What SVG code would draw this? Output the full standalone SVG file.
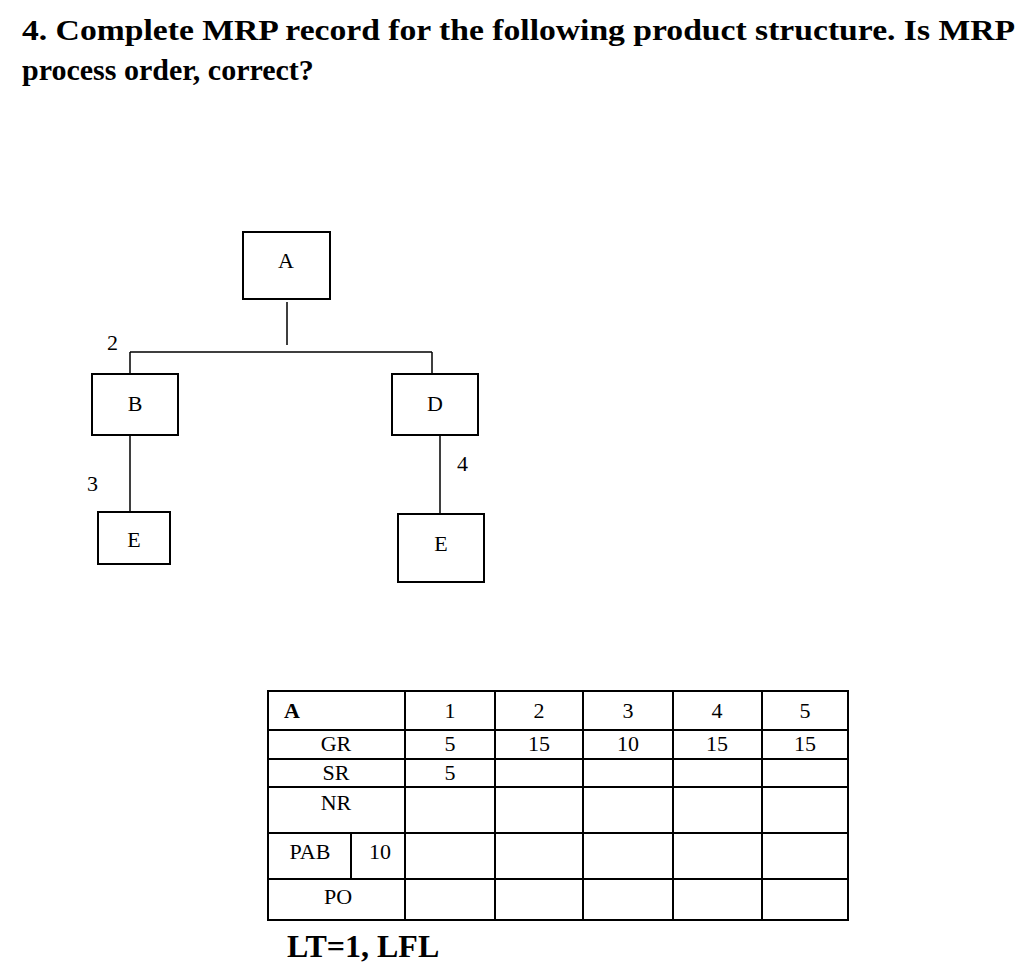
<svg xmlns="http://www.w3.org/2000/svg" width="1034" height="974" viewBox="0 0 1034 974">
<style>
.t{font-family:"Liberation Serif",serif;font-size:22px;fill:#000}
.b{fill:#fff;stroke:#000;stroke-width:2}
.l{stroke:#000;stroke-width:1.5;fill:none}
.g{stroke:#000;stroke-width:2;fill:none}
</style>
<rect width="1034" height="974" fill="#fff"/>
<text x="22" y="40" font-family="Liberation Serif,serif" font-weight="bold" font-size="30" textLength="993" lengthAdjust="spacingAndGlyphs">4. Complete MRP record for the following product structure. Is MRP</text>
<text x="22" y="80" font-family="Liberation Serif,serif" font-weight="bold" font-size="30">process order, correct?</text>
<g id="connectors">
<path class="l" d="M287 302V345M130 352H432M130 352V374M432 352V374M130 435V512M440 435V514"/>
<text class="t" x="107" y="350">2</text>
<text class="t" x="87" y="491">3</text>
<text class="t" x="457" y="471">4</text>
</g>
<g id="A"><rect class="b" x="243" y="232" width="87" height="67"/><text class="t" x="286" y="268" text-anchor="middle">A</text></g>
<g id="B"><rect class="b" x="92" y="374" width="86" height="61"/><text class="t" x="135" y="411" text-anchor="middle">B</text></g>
<g id="D"><rect class="b" x="392" y="374" width="86" height="61"/><text class="t" x="435" y="411" text-anchor="middle">D</text></g>
<g id="E1"><rect class="b" x="98" y="512" width="72" height="52"/><text class="t" x="134" y="547" text-anchor="middle">E</text></g>
<g id="E2"><rect class="b" x="398" y="514" width="86" height="68"/><text class="t" x="441" y="551" text-anchor="middle">E</text></g>
<g id="table">
<rect class="g" x="268" y="691" width="580" height="229"/>
<path class="g" d="M405 691V920M495 691V920M583 691V920M673 691V920M762 691V920M268 730H848M268 759H848M268 787H848M268 833H848M268 879H848M351 833V879"/>
<text x="284" y="718" font-family="Liberation Serif,serif" font-weight="bold" font-size="22">A</text>
<g class="t" text-anchor="middle">
<text x="450" y="718">1</text><text x="539" y="718">2</text><text x="628" y="718">3</text><text x="717" y="718">4</text><text x="805" y="718">5</text>
<text x="336" y="751">GR</text><text x="450" y="751">5</text><text x="539" y="751">15</text><text x="628" y="751">10</text><text x="717" y="751">15</text><text x="805" y="751">15</text>
<text x="336" y="780">SR</text><text x="450" y="780">5</text>
<text x="336" y="810">NR</text>
<text x="310" y="859">PAB</text><text x="380" y="859">10</text>
<text x="338" y="904">PO</text>
</g>
</g>
<text x="287" y="957" font-family="Liberation Serif,serif" font-weight="bold" font-size="32">LT=1, LFL</text>
</svg>
